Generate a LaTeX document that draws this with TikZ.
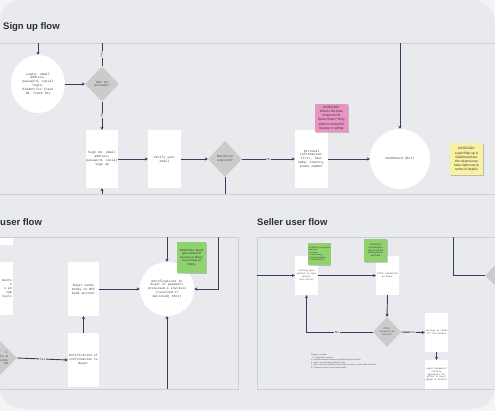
\documentclass[tikz,border=0pt]{standalone}
\usepackage{fontspec}
\setmainfont{Liberation Sans}
\newfontfamily\monof{Liberation Mono}
\usetikzlibrary{shapes.geometric,arrows.meta,shadows}
\definecolor{outerbg}{HTML}{F3F4F6}
\definecolor{cardbg}{HTML}{E8EAED}
\definecolor{framecol}{HTML}{CCCFD4}
\definecolor{conncol}{HTML}{3D3B63}
\definecolor{diamgray}{HTML}{CBCBCB}
\definecolor{pinknote}{HTML}{EA94C4}
\definecolor{yellownote}{HTML}{F8F1A2}
\definecolor{greennote}{HTML}{8FD26E}
\definecolor{titlecol}{HTML}{2A2D33}
\definecolor{nodetext}{HTML}{444444}
\tikzset{
  boxnode/.style={rectangle, fill=white, inner sep=0.5pt, align=center, text=nodetext, font=\monof\fontsize{3.2}{3.9}\selectfont},
  smallbox/.style={boxnode, font=\monof\fontsize{2.3}{2.9}\selectfont},
  diamnode/.style={diamond, fill=diamgray, inner sep=0pt, aspect=1, align=center, text=nodetext, font=\monof\fontsize{3.2}{3.9}\selectfont},
  circnode/.style={ellipse, fill=white, inner sep=0pt, align=center, text=nodetext, font=\monof\fontsize{3.2}{3.9}\selectfont},
  notenode/.style={rectangle, inner sep=0.5pt, align=center, text=black!80, font=\fontsize{3.3}{4.1}\selectfont, drop shadow={shadow xshift=0.6pt, shadow yshift=-1.5pt, opacity=0.2, fill=black}},
  fragtext/.style={anchor=east, inner sep=0pt, align=right, text=nodetext, font=\monof\fontsize{3.2}{3.9}\selectfont},
  arrowconn/.style={draw=conncol, line width=0.9pt, -{Stealth[length=3pt,width=3.2pt]}},
  plainconn/.style={draw=conncol, line width=0.9pt},
  lbl/.style={fill=cardbg, inner sep=0.6pt, text=conncol, font=\monof\fontsize{3.2}{3.9}\selectfont},
  framebox/.style={draw=framecol, line width=0.8pt},
  titletext/.style={anchor=base west, inner sep=0pt, text=titlecol, font=\bfseries\fontsize{9.5}{11}\selectfont},
}
\begin{document}
\begin{tikzpicture}[x=1pt,y=-1pt]
\useasboundingbox (0,0) rectangle (495,411);
\fill[outerbg] (0,0) rectangle (495,411);
\fill[cardbg, rounded corners=22pt] (0,0) rectangle (495,408.5);
\begin{scope}
\clip[rounded corners=22pt] (0,0) rectangle (495,408.5);

% ---------- frames ----------
\draw[framebox] (-10,43) rectangle (505,194);
\draw[framebox] (-10,237) rectangle (238,389);
\draw[framebox] (257,237) rectangle (505,389);

% ---------- titles ----------
\node[titletext] (t-signup) at (3,30) {Sign up flow};
\node[titletext] (t-buyer) at (0,226) {user flow};
\node[titletext] (t-seller) at (257,226) {Seller user flow};

% ---------- sign up flow ----------
\node[circnode, minimum width=54pt, minimum height=58pt] (login) at (38,84)
  {Login: email\\address,\\password, social\\login,\\biometrics (Face\\ID, Touch ID)};
\node[diamnode, minimum width=34pt, minimum height=35pt] (hasacc) at (102,84) {Has an\\account?};
\node[boxnode, minimum width=32pt, minimum height=58pt] (signup) at (102,159)
  {Sign Up: email\\address,\\password, social\\sign up};
\node[boxnode, minimum width=33pt, minimum height=58pt] (verify) at (164.5,159) {Verify your\\email};
\node[diamnode, minimum width=34pt, minimum height=36pt] (duration) at (225,159) {Duration\\expired?};
\node[boxnode, minimum width=33pt, minimum height=58pt] (personal) at (311.5,159)
  {Personal\\information:\\first, last\\name, country,\\phone number};
\node[notenode, fill=pinknote, minimum width=33pt, minimum height=28pt] (pink) at (331.5,118)
  {10/26/2022:\\What's the bare\\minimum for\\these flows? Only\\what's needed for\\buying or selling};
\node[circnode, minimum width=60pt, minimum height=60pt] (dash) at (400,159) {Dashboard (Bot)};
\node[notenode, fill=yellownote, minimum width=33pt, minimum height=32pt] (yellow) at (466.5,159)
  {10/26/2022:\\Login/Sign up \&\\Dashboard are\\the cleanest we\\have right now in\\terms of details};

\coordinate (st1) at (38,43);
\coordinate (st2) at (102,43);
\coordinate (st3) at (400,43);
\coordinate (sb1) at (102,194);
\coordinate (sb2) at (225,194);

\draw[arrowconn] (st1) -- (login.north);
\draw[arrowconn] (login.east) -- (hasacc.west);
\draw[plainconn] (hasacc.north) -- node[lbl, rotate=-90] {Yes} (st2);
\draw[arrowconn] (hasacc.south) -- node[lbl, rotate=-90] {No} (signup.north);
\draw[arrowconn] (sb1) -- (signup.south);
\draw[arrowconn] (signup.east) -- (verify.west);
\draw[arrowconn] (verify.east) -- (duration.west);
\draw[plainconn] (duration.south) -- (sb2);
\draw[arrowconn] (duration.east) -- node[lbl] {No} (personal.west);
\draw[arrowconn] (personal.east) -- (dash.west);
\draw[arrowconn] (st3) -- (dash.north);

% ---------- buyer user flow ----------
\node[boxnode, minimum width=18pt, minimum height=7pt] (ptop) at (4,241.5) {};
\node[boxnode, minimum width=33pt, minimum height=53pt] (pbox) at (-3.5,288.5) {};
\node[fragtext] (pboxtext) at (12,288.5) {ments\\e\\s an\\sum\\tails};
\node[diamnode, minimum width=36pt, minimum height=36pt] (pdiam) at (-1,358) {};
\node[fragtext] (pdiamtext) at (8,358) {l\\ts \&\\ions\\ed};
\node[boxnode, minimum width=31pt, minimum height=54pt] (sends) at (83.5,289)
  {Buyer sends\\money to BFF\\bank account};
\node[boxnode, minimum width=31pt, minimum height=54pt] (notif) at (83.5,360)
  {Notification of\\confirmation to\\Buyer};
\node[circnode, minimum width=52pt, minimum height=54pt] (ncirc) at (167,289)
  {Notifications to\\buyer of payments\\processed \& invoices\\(received or\\declined) (Bot)};
\node[notenode, fill=greennote, minimum width=29pt, minimum height=31pt, font=\fontsize{2.9}{3.6}\selectfont] (gbuy) at (191.5,257.5)
  {11/02/2022: Buyer\\gets notified of\\success or failure\\to purchase of\\listing.};

\coordinate (bt1) at (167,237);
\coordinate (bt2) at (218,237);
\coordinate (bb1) at (167,389);

\draw[arrowconn] (pdiam.east) -- node[lbl] {Yes} (notif.west);
\draw[arrowconn] (notif.north) -- (sends.south);
\draw[arrowconn] (sends.east) -- (ncirc.west);
\draw[arrowconn] (bt1) -- (ncirc.north);
\draw[arrowconn] (bt2) |- (ncirc.east);
\draw[arrowconn] (bb1) -- (ncirc.south);

% ---------- seller user flow ----------
\node[smallbox, minimum width=23pt, minimum height=39pt] (list) at (306.5,275.5)
  {Listing gets\\posted to open\\market\\(bot/store)};
\node[notenode, fill=greennote, minimum width=21pt, minimum height=22pt, align=left, font=\fontsize{1.9}{2.5}\selectfont] (gs1) at (319.5,254)
  {10/26/2022: For the basic\\seller flow:\\1. Listings\\2. Create listing\\3. Manage listing(s)\\4. Submit (MVP?)};
\node[smallbox, minimum width=23pt, minimum height=39pt] (offer) at (387.5,275.5)
  {Offer submitted\\by Buyer};
\node[notenode, fill=greennote, minimum width=23pt, minimum height=23pt, font=\fontsize{2.3}{2.9}\selectfont] (gs2) at (375.5,250.5)
  {11/02/2022:\\Submitting an\\offer is now the\\primary way to\\purchase};
\node[diamnode, minimum width=28pt, minimum height=30pt, font=\monof\fontsize{2.3}{2.9}\selectfont] (sdiam) at (387,332)
  {Offer\\accepted by\\Seller?};
\node[smallbox, minimum width=23pt, minimum height=39pt] (taken) at (436.5,332.5)
  {Listing is taken\\off the market};
\node[smallbox, minimum width=23pt, minimum height=29pt] (legal) at (436.5,374.5)
  {Legal documents\\outline\\agreement for\\seller \& buyer\\(Buyer \& Seller)};
\node[diamnode, minimum width=30pt, minimum height=30pt] (rdiam) at (500,275.5) {};
\node[anchor=north west, inner sep=0pt, align=left, text=black!70, font=\fontsize{1.9}{2.6}\selectfont] (notes) at (311,354)
  {Things to consider:\\
   \ \ 1. Listing fees for sellers\\
   2. Legal documents should be signed by the buyer \& seller\\
   3. Seller can edit a listing before an offer\\
   4. Offers can be countered or declined by the seller, or expire after a set time\\
   5. Payment is held in escrow until transfer};

\coordinate (se1) at (257,275.5);
\coordinate (se2) at (453,237);

\draw[arrowconn] (se1) -- (list.west);
\draw[arrowconn] (list.east) -- (offer.west);
\draw[arrowconn] (offer.south) -- (sdiam.north);
\draw[arrowconn] (sdiam.west) -| node[lbl, pos=0.27] {No} (list.south);
\draw[arrowconn] (sdiam.east) -- node[lbl] {Yes} (taken.west);
\draw[arrowconn] (taken.south) -- (legal.north);
\draw[plainconn] (se2) |- (rdiam.west);
\end{scope}
\end{tikzpicture}
\end{document}
